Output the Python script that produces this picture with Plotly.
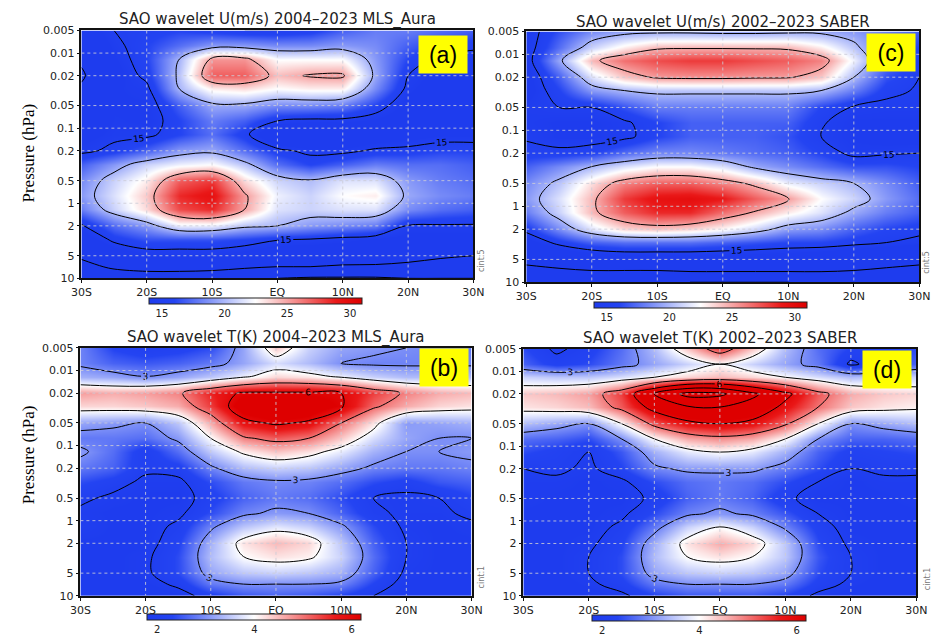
import numpy as np
import plotly.graph_objects as go

# ---------------- data ----------------
LATS = [-30, -25, -20, -15, -10, -5, 0, 5, 10, 15, 20, 25, 30]
PRESSURE = [0.005, 0.008, 0.012, 0.02, 0.03, 0.05, 0.08, 0.12, 0.2, 0.3,
            0.5, 0.8, 1.2, 2, 3, 5, 7, 10]
X_TICKS = [-30, -20, -10, 0, 10, 20, 30]
X_TICKTEXT = ['30S', '20S', '10S', 'EQ', '10N', '20N', '30N']
P_TICKS = [0.005, 0.01, 0.02, 0.05, 0.1, 0.2, 0.5, 1, 2, 5, 10]
P_TICKTEXT = ['0.005', '0.01', '0.02', '0.05', '0.1', '0.2', '0.5', '1', '2', '5', '10']
U_CBAR_TICKS = [15, 20, 25, 30]
T_CBAR_TICKS = [2, 4, 6]

# SAO wavelet amplitude of zonal wind U (m/s), MLS Aura 2004-2023 (rows = PRESSURE, cols = LATS)
U_MLS = [
    [13, 15, 15.5, 16, 15.5, 15, 15, 15.5, 17, 18, 18, 17.5, 17],
    [12, 14.5, 16, 17.5, 19, 19, 18.5, 18.5, 19, 18.5, 17, 16, 15.5],
    [10.5, 14, 16, 20, 25.5, 25.5, 22.5, 22.5, 22.5, 19, 16, 14.5, 14],
    [9.5, 13.5, 15.5, 20.5, 27, 27, 24.3, 25.2, 25.3, 19.5, 15, 13.5, 13],
    [10.5, 14, 14.5, 20, 23, 23.5, 22.5, 23, 23, 18.5, 14.5, 13, 12.5],
    [12, 14, 14, 17, 19.5, 19.5, 18.5, 18.5, 18, 16, 13.5, 12.5, 12.5],
    [13, 14.2, 14, 16, 18, 17, 15, 14.5, 14.5, 14, 13, 12.5, 12.5],
    [13.5, 14.5, 14.5, 16, 17.5, 15.5, 12, 11.5, 12, 13, 13.5, 14, 14],
    [14.5, 15.5, 17, 19, 19.5, 17.5, 15.5, 14.5, 14.5, 15.3, 15.5, 16, 16],
    [17, 19, 21, 22, 22.5, 20.5, 17.5, 16, 17, 18, 17.5, 17.5, 17],
    [18.5, 21, 23, 27, 28, 23.5, 21, 20.2, 21.5, 21.5, 19, 18, 17.5],
    [19, 21.5, 24, 28.5, 29.5, 25.3, 22, 21, 22.5, 23, 19.5, 18.5, 18],
    [18, 21, 23.5, 27.5, 28.5, 25, 21.5, 21, 21.5, 21.5, 18.5, 17.5, 17],
    [14.7, 17.5, 19, 22, 22, 20.5, 20, 19, 18.5, 18, 14.8, 14.8, 14.8],
    [13, 15.5, 16.5, 16.5, 16.5, 16, 15.2, 15, 14.5, 14, 13.5, 13.5, 13.5],
    [10.5, 13, 14, 14, 14, 13.5, 12.5, 12.5, 12.5, 12, 11.5, 10.5, 10],
    [9, 10.5, 11, 11, 11, 10.5, 10, 10, 9.5, 9.5, 9, 8.5, 8],
    [7, 8, 8.5, 8.5, 8, 7, 5, 4.5, 4.5, 4.5, 5, 5, 5],
]

# SAO wavelet amplitude of U (m/s), SABER 2002-2023
U_SABER = [
    [14, 16.5, 18.5, 19.3, 19.5, 19.5, 19.3, 19.3, 19.5, 19.5, 19, 18, 17],
    [14, 17.5, 21, 23, 24.5, 24.6, 24.6, 24.6, 24.5, 23, 20.5, 17.5, 16],
    [14, 19.5, 24.5, 26.5, 27.5, 28, 28, 27.5, 27, 26, 22, 17.5, 15.5],
    [13.5, 17, 21.5, 24, 25.3, 25.5, 25.5, 25.3, 25.2, 24, 20, 16.5, 15],
    [13.5, 16, 19, 20, 20.5, 20.5, 20.5, 20.5, 20.5, 20, 18, 15.5, 14.8],
    [14.5, 15, 15, 16.5, 18, 18, 18, 18, 18, 16, 14.8, 14.5, 14.5],
    [14.5, 14, 14, 14.7, 16, 17, 17, 17, 17, 15.2, 14, 14, 14],
    [14.8, 14, 14, 14.5, 16, 17, 17, 17, 16.5, 15, 14, 13.5, 13.5],
    [15.5, 15.5, 16, 17.5, 18.5, 18.5, 18, 17.5, 17, 16, 14.5, 14.8, 15],
    [17, 18.5, 20, 21.5, 22.5, 22.5, 21.5, 19.5, 18.5, 17.5, 16.5, 16.5, 16],
    [18.5, 20.5, 23.5, 26, 27, 27, 26, 24.5, 22, 21, 20, 18.5, 17],
    [19, 21.5, 24.5, 28, 29.5, 29.8, 29, 27, 25.2, 22.5, 21, 19, 17.5],
    [18, 21, 24.5, 27, 28.5, 28.5, 26.5, 24.8, 23, 21.5, 19.5, 18, 17],
    [15.5, 18.5, 21.5, 23.5, 24, 23.5, 22.5, 21, 19, 18.5, 17, 16, 15.5],
    [13.5, 15.5, 17, 17.5, 17.5, 17.5, 17, 16.5, 16, 16, 15.5, 15, 14.5],
    [11, 12, 12.5, 13, 13, 13, 13, 13, 13, 12.5, 12, 11.5, 11],
    [9, 9.5, 10, 10, 10, 10.5, 10.5, 10.5, 10.5, 10.5, 10, 9.5, 9],
    [7.5, 7.5, 7.5, 6.5, 5.5, 5, 5, 5, 5, 5.5, 6, 7, 7.5],
]

# SAO wavelet amplitude of temperature T (K), MLS Aura 2004-2023
T_MLS = [
    [2.9, 2.3, 2.1, 2.2, 2.4, 3.2, 4.4, 3.6, 3.2, 3.1, 3.0, 2.9, 2.8],
    [2.9, 2.6, 2.5, 2.6, 2.8, 3.2, 3.7, 3.4, 3.0, 2.9, 2.9, 2.9, 2.9],
    [3.3, 3.2, 3.0, 3.2, 3.5, 3.9, 4.3, 4.2, 3.9, 3.6, 3.4, 3.4, 3.4],
    [4.7, 4.6, 4.7, 4.9, 5.6, 6.1, 6.1, 6.1, 6.0, 5.4, 4.9, 4.6, 4.5],
    [4.3, 4.3, 4.4, 4.6, 5.4, 6.5, 6.8, 6.6, 6.1, 5.1, 4.6, 4.3, 4.2],
    [3.2, 3.1, 3.0, 3.5, 4.6, 5.8, 6.1, 5.9, 5.0, 4.2, 3.1, 3.2, 3.3],
    [2.8, 2.8, 2.7, 3.1, 4.0, 4.9, 5.2, 5.0, 4.4, 3.7, 3.2, 3.0, 3.0],
    [3.1, 2.7, 2.1, 2.7, 3.5, 4.1, 4.4, 4.2, 3.8, 3.3, 3.0, 3.0, 3.1],
    [2.8, 2.6, 2.1, 2.2, 2.9, 3.4, 3.6, 3.5, 3.2, 2.9, 2.8, 2.8, 2.9],
    [2.4, 2.2, 1.9, 1.9, 2.4, 2.8, 2.95, 2.9, 2.7, 2.4, 2.2, 2.5, 2.6],
    [2.1, 1.9, 1.8, 1.8, 2.2, 2.6, 2.8, 2.7, 2.4, 2.0, 1.9, 2.0, 2.3],
    [1.9, 1.8, 1.8, 1.9, 2.4, 2.9, 3.1, 3.0, 2.6, 2.1, 1.9, 1.9, 2.1],
    [2.0, 1.8, 1.8, 2.1, 2.9, 3.5, 3.8, 3.6, 3.1, 2.4, 1.9, 1.8, 1.9],
    [1.8, 1.8, 1.8, 2.3, 3.3, 4.2, 4.5, 4.3, 3.5, 2.6, 2.0, 1.8, 1.8],
    [1.8, 1.8, 1.9, 2.4, 3.4, 4.0, 4.2, 4.1, 3.6, 2.7, 2.0, 1.8, 1.8],
    [1.8, 1.8, 1.9, 2.4, 3.2, 3.5, 3.6, 3.5, 3.3, 2.6, 1.9, 1.8, 1.8],
    [1.7, 1.7, 1.8, 2.1, 2.8, 3.0, 3.0, 3.0, 2.9, 2.3, 1.8, 1.7, 1.7],
    [1.6, 1.6, 1.6, 1.8, 2.2, 2.5, 2.6, 2.5, 2.3, 2.0, 1.7, 1.6, 1.6],
]

# SAO wavelet amplitude of T (K), SABER 2002-2023
T_SABER = [
    [2.4, 1.9, 2.2, 2.7, 3.4, 4.4, 5.4, 4.4, 3.4, 2.7, 2.3, 2.2, 2.4],
    [2.6, 2.2, 2.4, 2.8, 3.2, 3.6, 4.0, 3.6, 3.2, 2.8, 1.9, 2.3, 2.6],
    [3.6, 3.5, 3.5, 3.7, 4.0, 4.3, 4.5, 4.3, 4.0, 3.7, 3.4, 3.5, 3.6],
    [4.4, 4.5, 4.7, 5.4, 7.0, 8.3, 8.2, 7.2, 6.2, 5.2, 4.6, 4.4, 4.3],
    [4.2, 4.3, 4.5, 5.2, 6.3, 6.9, 7.0, 6.6, 5.8, 5.0, 4.4, 4.2, 4.1],
    [3.4, 3.2, 3.0, 4.0, 5.2, 5.8, 6.0, 5.8, 5.1, 4.0, 3.0, 3.2, 3.4],
    [2.7, 2.6, 2.4, 3.0, 4.0, 4.6, 4.8, 4.6, 4.0, 3.0, 2.6, 2.6, 2.7],
    [2.4, 2.2, 2.0, 2.5, 3.3, 3.8, 4.0, 3.8, 3.3, 2.6, 2.2, 2.3, 2.4],
    [2.0, 2.1, 1.9, 2.3, 2.9, 3.1, 3.1, 3.1, 2.8, 2.4, 2.0, 2.1, 2.1],
    [1.9, 1.9, 1.8, 1.9, 2.4, 2.7, 2.8, 2.7, 2.4, 2.0, 1.8, 1.9, 1.9],
    [1.9, 1.8, 1.8, 1.8, 2.1, 2.6, 2.8, 2.6, 2.1, 1.8, 1.8, 1.8, 1.9],
    [1.8, 1.8, 1.8, 1.9, 2.4, 2.9, 3.1, 2.9, 2.5, 2.0, 1.8, 1.8, 1.8],
    [1.8, 1.8, 1.8, 2.1, 2.8, 3.6, 4.0, 3.6, 2.9, 2.2, 1.8, 1.8, 1.8],
    [1.8, 1.8, 1.9, 2.3, 3.3, 4.2, 4.6, 4.3, 3.5, 2.4, 1.9, 1.8, 1.8],
    [1.8, 1.8, 2.0, 2.4, 3.4, 4.0, 4.2, 4.0, 3.5, 2.5, 2.0, 1.8, 1.8],
    [1.8, 1.8, 2.0, 2.4, 3.2, 3.5, 3.6, 3.5, 3.2, 2.4, 2.0, 1.8, 1.8],
    [1.7, 1.7, 1.9, 2.2, 2.8, 3.0, 3.0, 3.0, 2.8, 2.2, 1.9, 1.7, 1.7],
    [1.6, 1.6, 1.7, 1.9, 2.3, 2.5, 2.5, 2.5, 2.3, 1.9, 1.7, 1.6, 1.6],
]

TITLES = ['SAO wavelet U(m/s) 2004\u20132023 MLS_Aura',
          'SAO wavelet U(m/s) 2002\u20132023 SABER',
          'SAO wavelet T(K) 2004\u20132023 MLS_Aura',
          'SAO wavelet T(K) 2002\u20132023 SABER']
LETTERS = ['(a)', '(c)', '(b)', '(d)']
CINT = ['cint:5', 'cint:5', 'cint:1', 'cint:1']

# ---------------- layout helpers ----------------
W, H = 945, 639
LOGP = np.log10(PRESSURE)
P_TICKVALS = np.log10(P_TICKS)

def fx(px):
    return px / W

def fy(py):
    return 1 - py / H

BWR = [[0.0, 'rgb(30,60,238)'], [0.12, 'rgb(36,68,242)'],
       [0.5, 'rgb(255,255,255)'],
       [0.88, 'rgb(234,24,24)'], [1.0, 'rgb(222,0,0)']]

panels = [
    dict(z=U_MLS, zmin=14, zmax=31, cticks=U_CBAR_TICKS,
         groups=[(5, 10, 5, False), (20, 30, 5, False), (15, 15, 5, True)],
         box=(73, 474, 25, 278), cbar=(145, 358, 298), title_y=14,
         letter=(443, 49.5), cint=(482, 260)),
    dict(z=U_SABER, zmin=14, zmax=31, cticks=U_CBAR_TICKS,
         groups=[(5, 10, 5, False), (20, 30, 5, False), (15, 15, 5, True)],
         box=(528, 930, 26, 282), cbar=(600, 813, 302), title_y=16,
         letter=(901, 47.5), cint=(938, 262)),
    dict(z=T_MLS, zmin=1.8, zmax=6.2, cticks=T_CBAR_TICKS,
         groups=[(1, 2, 1, False), (4, 5, 1, False), (7, 9, 1, False), (3, 6, 3, True)],
         box=(72, 472, 349, 602), cbar=(143, 357, 621), title_y=338,
         letter=(444, 369.5), cint=(482, 583)),
    dict(z=T_SABER, zmin=1.8, zmax=6.2, cticks=T_CBAR_TICKS,
         groups=[(1, 2, 1, False), (4, 5, 1, False), (7, 9, 1, False), (3, 6, 3, True)],
         box=(525, 927, 350, 602), cbar=(598, 812, 622), title_y=339,
         letter=(896.5, 371), cint=(938, 585)),
]

fig = go.Figure()
annotations = []
shapes = []
TICKFONT = dict(family='DejaVu Sans', size=11, color='#222')

for i, p in enumerate(panels):
    n = '' if i == 0 else str(i + 1)
    xa, ya = 'x' + n, 'y' + n
    x0, x1, y0, y1 = p['box']
    cx0, cx1, cy = p['cbar']
    fig.add_trace(go.Heatmap(
        x=LATS, y=LOGP, z=p['z'], zsmooth='best', colorscale=BWR,
        zmin=p['zmin'], zmax=p['zmax'], xaxis=xa, yaxis=ya, hoverinfo='skip',
        colorbar=dict(orientation='h', x=fx((cx0 + cx1) / 2), xanchor='center',
                      y=fy(cy), yanchor='top', len=cx1 - cx0, lenmode='pixels',
                      thickness=6, xpad=0, ypad=0, tickvals=p['cticks'], ticks='',
                      tickfont=dict(family='DejaVu Sans', size=10, color='#222'),
                      outlinewidth=1, outlinecolor='#222')))
    for (s, e, sz, lab) in p['groups']:
        fig.add_trace(go.Contour(
            x=LATS, y=LOGP, z=p['z'], xaxis=xa, yaxis=ya, autocontour=False,
            showscale=False, hoverinfo='skip',
            contours=dict(coloring='none', start=s, end=e, size=sz, showlabels=lab,
                          labelfont=dict(family='DejaVu Sans', size=9, color='black')),
            line=dict(color='black', width=1, smoothing=1)))
    axcommon = dict(showline=True, linecolor='#111', linewidth=1.5, mirror=True,
                    ticks='outside', ticklen=3, tickcolor='#111', showgrid=False,
                    zeroline=False, tickfont=TICKFONT)
    fig.update_layout(**{
        ('xaxis' + n): dict(domain=[fx(x0), fx(x1)], anchor=ya, range=[-30, 30],
                            tickvals=X_TICKS, ticktext=X_TICKTEXT, **axcommon),
        ('yaxis' + n): dict(domain=[fy(y1), fy(y0)], anchor=xa,
                            range=[LOGP[-1], np.log10(0.005)],
                            tickvals=P_TICKVALS, ticktext=P_TICKTEXT, **axcommon),
    })
    # dotted grid lines drawn above the coloured field
    for xv in X_TICKS[1:-1]:
        shapes.append(dict(type='line', xref=xa, yref=ya, x0=xv, x1=xv,
                           y0=P_TICKVALS[0], y1=P_TICKVALS[-1], layer='above',
                           line=dict(color='rgba(205,205,215,0.85)', width=1, dash='dot')))
    for yv in P_TICKVALS[1:-1]:
        shapes.append(dict(type='line', xref=xa, yref=ya, x0=-30, x1=30,
                           y0=yv, y1=yv, layer='above',
                           line=dict(color='rgba(205,205,215,0.85)', width=1, dash='dot')))
    annotations.append(dict(text=TITLES[i], x=fx((x0 + x1) / 2), y=fy(p['title_y']),
                            xref='paper', yref='paper', showarrow=False,
                            xanchor='center', yanchor='middle',
                            font=dict(family='DejaVu Sans', size=15, color='#222')))
    lx, ly = p['letter']
    annotations.append(dict(text=LETTERS[i], x=fx(lx), y=fy(ly), xref='paper', yref='paper',
                            showarrow=False, xanchor='center', yanchor='middle',
                            width=46, height=35, bgcolor='#ffff00',
                            font=dict(family='Liberation Sans', size=23, color='black')))
    cx, cyy = p['cint']
    annotations.append(dict(text=CINT[i], x=fx(cx), y=fy(cyy), xref='paper', yref='paper',
                            showarrow=False, textangle=-90, xanchor='center', yanchor='middle',
                            font=dict(family='DejaVu Sans', size=8, color='#777')))

for yc in (150, 458):
    annotations.append(dict(text='Pressure (hPa)', x=fx(19), y=fy(yc), xref='paper',
                            yref='paper', showarrow=False, textangle=-90,
                            xanchor='center', yanchor='middle',
                            font=dict(family='Liberation Serif', size=17, color='black')))

fig.update_layout(width=W, height=H, margin=dict(l=0, r=0, t=0, b=0),
                  paper_bgcolor='white', plot_bgcolor='white', showlegend=False,
                  annotations=annotations, shapes=shapes)

fig.write_html('out.html')
